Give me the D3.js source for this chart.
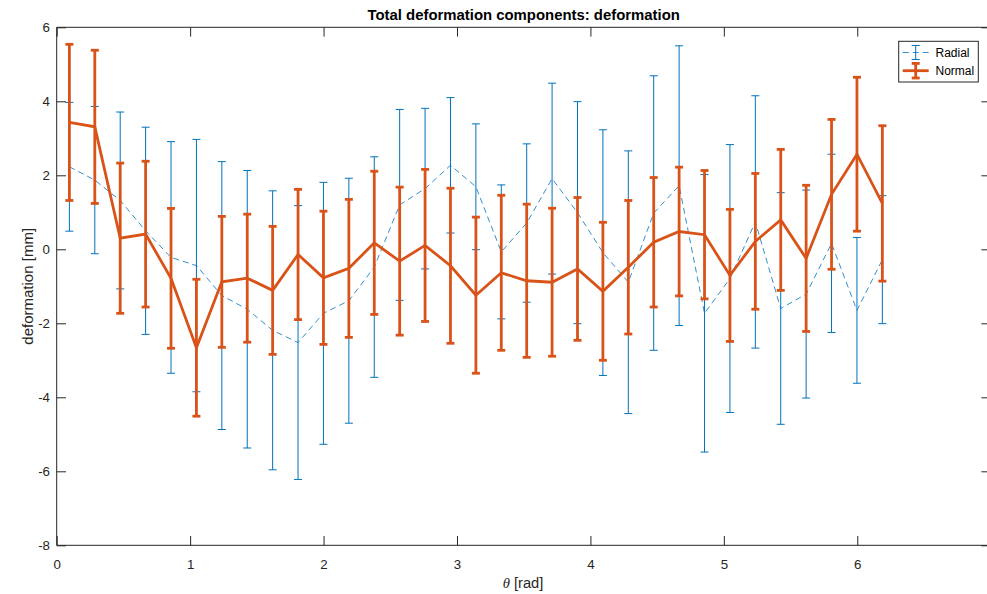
<!DOCTYPE html>
<html>
<head>
<meta charset="utf-8">
<script src="https://cdn.jsdelivr.net/npm/d3@7"></script>
<style>
  html, body { margin: 0; padding: 0; background: #fff; }
  svg { display: block; font-family: "Liberation Sans", Arial, Helvetica, sans-serif; }
</style>
</head>
<body>
<svg id="chart" width="987" height="594"></svg>
<script>
// ---- data ----
const theta = [0.0952, 0.2856, 0.4760, 0.6664, 0.8568, 1.0472, 1.2376, 1.4280, 1.6184, 1.8088,
  1.9992, 2.1896, 2.3800, 2.5704, 2.7608, 2.9512, 3.1416, 3.3320, 3.5224, 3.7128,
  3.9032, 4.0936, 4.2840, 4.4744, 4.6648, 4.8552, 5.0456, 5.2360, 5.4264, 5.6168,
  5.8072, 5.9976, 6.1880];
const radial = [2.23, 1.87, 1.32, 0.50, -0.22, -0.44, -1.25, -1.62, -2.19, -2.52,
  -1.73, -1.39, -0.48, 1.20, 1.64, 2.27, 1.69, -0.07, 0.71, 1.91,
  0.99, -0.09, -0.89, 0.98, 1.72, -1.73, -0.79, 0.74, -1.60, -1.21,
  0.16, -1.65, -0.28];
const radialErr = [1.74, 1.99, 2.39, 2.80, 3.13, 3.41, 3.62, 3.75, 3.77, 3.70,
  3.54, 3.31, 2.98, 2.58, 2.17, 1.83, 1.70, 1.81, 2.14, 2.58,
  3.00, 3.32, 3.55, 3.71, 3.78, 3.75, 3.62, 3.41, 3.13, 2.81,
  2.41, 1.97, 1.73];
const normal = [3.43, 3.31, 0.30, 0.41, -0.785, -2.66, -0.88, -0.78, -1.11, -0.14,
  -0.77, -0.515, 0.175, -0.32, 0.105, -0.445, -1.24, -0.635, -0.85, -0.89,
  -0.53, -1.135, -0.485, 0.19, 0.48, 0.395, -0.705, 0.215, 0.795, -0.245,
  1.485, 2.57, 1.24];
const normalErr = [2.11, 2.07, 2.03, 1.97, 1.89, 1.85, 1.77, 1.73, 1.73, 1.76,
  1.80, 1.865, 1.935, 2.00, 2.055, 2.095, 2.11, 2.095, 2.07, 2.00,
  1.93, 1.865, 1.805, 1.75, 1.74, 1.735, 1.785, 1.835, 1.905, 1.975,
  2.025, 2.08, 2.10];
const xTicks = [0, 1, 2, 3, 4, 5, 6];
const yTicks = [-8, -6, -4, -2, 0, 2, 4, 6];
const xTickLabels = ["0", "1", "2", "3", "4", "5", "6"];
const yTickLabels = ["-8", "-6", "-4", "-2", "0", "2", "4", "6"];
const seriesNames = ["Radial", "Normal"];
const titleText = "Total deformation components: deformation";
const xLabelText = "[rad]";
const yLabelText = "deformation [mm]";

// ---- layout ----
const svg = d3.select("#chart");
const L = 56.7, R = 990.7, T = 27.3, B = 545.3;
const axisColor = "#262626";
const blue = "#0072BD", orange = "#D95319";
const tickLen = 9.3;

const x = d3.scaleLinear().domain([0, 7]).range([L, R]);
const y = d3.scaleLinear().domain([-8, 6]).range([B, T]);

// ---- series ----
function drawSeries(vals, errs, color, lw, barW, capH, dash) {
  const g = svg.append("g");
  const pts = theta.map((t, i) => ({ t, v: vals[i], e: errs[i] }));
  const cap = 4;
  pts.forEach(p => {
    g.append("line").attr("x1", x(p.t)).attr("x2", x(p.t))
      .attr("y1", y(p.v - p.e)).attr("y2", y(p.v + p.e))
      .attr("stroke", color).attr("stroke-width", barW);
    [p.v - p.e, p.v + p.e].forEach(yy => {
      g.append("line").attr("x1", x(p.t) - cap).attr("x2", x(p.t) + cap)
        .attr("y1", y(yy)).attr("y2", y(yy))
        .attr("stroke", color).attr("stroke-width", capH);
    });
  });
  g.append("path").datum(pts)
    .attr("d", d3.line().x(d => x(d.t)).y(d => y(d.v)))
    .attr("fill", "none").attr("stroke", color).attr("stroke-width", lw)
    .attr("stroke-linejoin", "miter")
    .attr("stroke-dasharray", dash || null);
}
drawSeries(radial, radialErr, blue, 0.8, 1, 1, "6,4");
drawSeries(normal, normalErr, orange, 2.8, 2.8, 2.8, null);

// ---- axes box ----
const ax = svg.append("g").attr("stroke", axisColor).attr("fill", "none").attr("stroke-width", 1);
ax.append("line").attr("x1", L).attr("x2", R + 10).attr("y1", T).attr("y2", T);
ax.append("line").attr("x1", L).attr("x2", R + 10).attr("y1", B).attr("y2", B);
ax.append("line").attr("x1", L).attr("x2", L).attr("y1", T).attr("y2", B);
ax.append("line").attr("x1", R).attr("x2", R).attr("y1", T).attr("y2", B);

const xAxisB = d3.axisBottom(x).tickValues(xTicks).tickSizeInner(-tickLen).tickSizeOuter(0)
  .tickPadding(14).tickFormat((d, i) => xTickLabels[i]);
const gxb = svg.append("g").attr("transform", `translate(0,${B})`).call(xAxisB);
const xAxisT = d3.axisTop(x).tickValues(xTicks).tickSizeInner(-tickLen).tickSizeOuter(0).tickFormat("");
const gxt = svg.append("g").attr("transform", `translate(0,${T})`).call(xAxisT);
const yAxisL = d3.axisLeft(y).tickValues(yTicks).tickSizeInner(-tickLen).tickSizeOuter(0)
  .tickPadding(6.7).tickFormat((d, i) => yTickLabels[i]);
const gyl = svg.append("g").attr("transform", `translate(${L},0)`).call(yAxisL);
const yAxisR = d3.axisRight(y).tickValues(yTicks).tickSizeInner(-tickLen).tickSizeOuter(0).tickFormat("");
const gyr = svg.append("g").attr("transform", `translate(${R},0)`).call(yAxisR);

[gxb, gxt, gyl, gyr].forEach(g => {
  g.select(".domain").remove();
  g.selectAll(".tick line").attr("stroke", axisColor).attr("stroke-width", 1);
  g.selectAll(".tick text").attr("fill", axisColor)
    .style("font-family", "'Liberation Sans', Arial, sans-serif").style("font-size", "13.3px");
});

// ---- labels ----
svg.append("text").attr("x", (L + R) / 2).attr("y", 19.5).attr("text-anchor", "middle")
  .attr("fill", "#000").style("font-size", "14.9px").style("font-weight", "bold").text(titleText);

const xl = svg.append("text").attr("x", 523).attr("y", 588).attr("text-anchor", "middle")
  .attr("fill", axisColor).style("font-size", "14.7px");
xl.append("tspan").style("font-family", "'Liberation Serif', 'Times New Roman', serif").style("font-style", "italic").text("\u03B8");
xl.append("tspan").text(" " + xLabelText);

svg.append("text").attr("transform", `translate(32.5,${(T + B) / 2}) rotate(-90)`)
  .attr("text-anchor", "middle").attr("fill", axisColor).style("font-size", "15px").text(yLabelText);

// ---- legend ----
const lg = svg.append("g");
lg.append("rect").attr("x", 898.7).attr("y", 41.3).attr("width", 79.6).attr("height", 40.7)
  .attr("fill", "#fff").attr("stroke", axisColor).attr("stroke-width", 1);
const legendItems = [
  { name: seriesNames[0], color: blue, lw: 0.8, barW: 1, capH: 1, dash: "6,4", cy: 52.5, half: 7 },
  { name: seriesNames[1], color: orange, lw: 2.8, barW: 2.8, capH: 2.8, dash: null, cy: 70.7, half: 7.3 }
];
legendItems.forEach(it => {
  const cx = 915.7;
  lg.append("line").attr("x1", 902.7).attr("x2", 928.7).attr("y1", it.cy).attr("y2", it.cy)
    .attr("stroke", it.color).attr("stroke-width", it.lw).attr("stroke-dasharray", it.dash);
  lg.append("line").attr("x1", cx).attr("x2", cx).attr("y1", it.cy - it.half).attr("y2", it.cy + it.half)
    .attr("stroke", it.color).attr("stroke-width", it.barW);
  [it.cy - it.half, it.cy + it.half].forEach(yy => {
    lg.append("line").attr("x1", cx - 4).attr("x2", cx + 4).attr("y1", yy).attr("y2", yy)
      .attr("stroke", it.color).attr("stroke-width", it.capH);
  });
  lg.append("text").attr("x", 935.5).attr("y", it.cy + 4.3).attr("fill", "#000")
    .style("font-size", "12px").text(it.name);
});
</script>
</body>
</html>
